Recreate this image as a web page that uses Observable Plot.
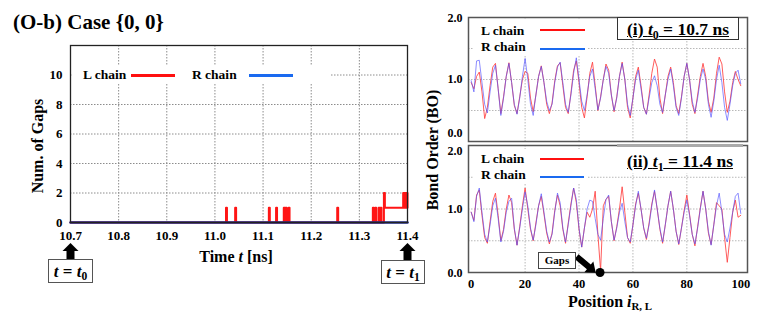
<!DOCTYPE html>
<html><head><meta charset="utf-8">
<script src="https://cdn.jsdelivr.net/npm/d3@7"></script>
<script src="https://cdn.jsdelivr.net/npm/@observablehq/plot@0.6"></script>
<style>
body{margin:0;background:#fff;}
#root{position:relative;width:763px;height:321px;overflow:hidden;background:#fff;font-family:"Liberation Serif","Times New Roman",serif;font-weight:bold;color:#000;}
#root svg{position:absolute;left:0;top:0;}
#root svg, #root svg text{font-family:"Liberation Serif","Times New Roman",serif !important;font-weight:bold;}
.ov{position:absolute;white-space:nowrap;line-height:1;}
.sub{font-size:0.68em;position:relative;top:0.3em;}
</style></head><body><div id="root"></div>
<script>
// ---------- DATA ----------
// Left panel: number of gaps vs time (step series)
const gapTime = [10.700, 11.023, 11.025, 11.042, 11.044, 11.112, 11.114, 11.127, 11.129, 11.143, 11.145, 11.147, 11.149, 11.153, 11.155, 11.254, 11.256, 11.328, 11.330, 11.333, 11.335, 11.340, 11.342, 11.344, 11.346, 11.351, 11.353, 11.391, 11.3925, 11.394, 11.3955, 11.397, 11.3985, 11.400];
const gapCountL = [0, 1, 0, 1, 0, 1, 0, 1, 0, 1, 0, 1, 0, 1, 0, 1, 0, 1, 0, 1, 0, 1, 0, 1, 0, 2, 1, 2, 1, 2, 1, 2, 1, 2];
const rTime = [10.7, 11.4];
const gapCountR = [0, 0];
const timeTicks = [10.7, 10.8, 10.9, 11.0, 11.1, 11.2, 11.3, 11.4];
const timeGrid = [10.8, 10.9, 11.0, 11.1, 11.2, 11.3];
const gapTicks = [0, 2, 4, 6, 8, 10];
const gapGrid = [2, 4, 6, 8, 10];
const markTimes = [10.7, 11.4];

// Right panels: bond order vs position
const position = Array.from({length: 101}, (_, i) => i);
const boL_t0 = [0.95,0.85,1.05,1.12,0.80,0.37,0.55,0.90,1.20,1.26,
  0.85,0.45,0.72,1.05,1.27,0.95,0.58,0.45,0.72,1.00,
  1.13,1.10,0.70,0.48,0.75,1.05,1.22,0.95,0.60,0.45,
  0.62,0.98,1.22,1.27,0.90,0.55,0.45,0.78,1.15,1.30,
  0.95,0.55,0.38,0.72,1.10,1.28,0.90,0.50,0.72,1.00,
  1.25,1.15,0.75,0.48,0.72,1.05,1.28,1.00,0.55,0.38,
  0.70,1.05,1.20,0.90,0.55,0.44,0.75,1.10,1.33,1.20,
  0.70,0.45,0.75,1.05,1.20,0.95,0.58,0.45,0.72,1.05,
  1.26,1.00,0.60,0.45,0.75,1.05,1.26,1.05,0.65,0.47,
  0.70,1.10,1.36,1.25,0.80,0.47,0.65,0.95,1.13,1.00,
  0.90];
const boR_t0 = [0.98,0.80,1.30,1.31,0.95,0.60,0.46,0.80,1.10,1.23,
  0.85,0.42,0.70,1.05,1.26,0.95,0.60,0.44,0.70,1.05,
  1.34,1.00,0.60,0.42,0.75,1.05,1.21,0.95,0.65,0.50,
  0.60,0.95,1.20,1.28,0.95,0.60,0.47,0.75,1.10,1.35,
  1.00,0.65,0.50,0.75,1.05,1.17,0.85,0.51,0.70,1.00,
  1.21,1.10,0.75,0.50,0.70,1.05,1.26,1.00,0.60,0.42,
  0.70,1.00,1.15,0.85,0.55,0.44,0.70,0.95,1.06,0.90,
  0.60,0.47,0.75,1.00,1.17,0.90,0.55,0.42,0.70,1.05,
  1.26,1.00,0.65,0.47,0.70,1.00,1.17,1.00,0.60,0.39,
  0.65,1.00,1.23,0.95,0.55,0.34,0.60,0.90,1.10,1.15,
  0.93];
const boL_t1 = [0.95,0.82,1.22,1.30,0.90,0.55,0.46,0.80,1.12,1.25,
  0.90,0.50,0.68,1.00,1.22,1.10,0.68,0.43,0.72,1.05,
  1.33,1.00,0.68,0.50,0.78,1.05,1.20,0.92,0.62,0.45,
  0.62,0.98,1.22,1.05,0.68,0.46,0.78,1.08,1.33,1.10,
  0.68,0.40,0.70,0.95,0.87,1.00,1.28,0.60,0.03,1.05,
  1.15,1.20,0.80,0.50,0.72,1.00,1.35,0.95,0.55,0.46,
  0.75,1.08,1.25,1.00,0.70,0.52,0.78,1.08,1.28,1.00,
  0.68,0.46,0.75,1.05,1.28,1.00,0.65,0.44,0.70,0.98,
  1.22,0.92,0.60,0.42,0.72,1.02,1.28,1.00,0.62,0.44,
  0.75,1.10,1.05,1.00,0.55,0.16,0.55,0.95,1.14,0.87,
  0.90];
const boR_t1 = [0.95,0.80,1.20,1.33,0.95,0.60,0.48,0.75,1.05,1.17,
  0.85,0.48,0.65,0.95,1.12,1.17,0.70,0.43,0.70,1.00,
  1.27,1.05,0.70,0.51,0.75,1.05,1.24,0.95,0.65,0.48,
  0.60,0.95,1.25,1.10,0.70,0.48,0.75,1.05,1.33,1.15,
  0.70,0.40,0.70,1.00,1.14,1.12,0.85,0.60,0.51,0.85,
  1.15,1.22,0.80,0.51,0.70,0.95,1.09,0.80,0.55,0.48,
  0.75,1.05,1.28,1.00,0.70,0.54,0.75,1.05,1.30,1.00,
  0.70,0.48,0.75,1.05,1.28,1.00,0.65,0.45,0.70,0.95,
  1.14,0.90,0.60,0.45,0.70,1.00,1.28,1.00,0.65,0.43,
  0.75,1.05,1.25,0.95,0.60,0.48,0.70,0.95,1.20,1.25,
  0.93];
const posTicks = [0, 20, 40, 60, 80, 100];
const posGrid = [20, 40, 60, 80];
const boGrid = [0.5, 1.0, 1.5];
const gapPoint = [{p: 47.8, bo: 0}];
const gapArrow = [{p: 39.1, bo: 0.25}];

// ---------- RENDER ----------
const serif = "Liberation Serif, Times New Roman, serif";
const root = document.getElementById("root");
const baseStyle = {background: "transparent", fontFamily: serif, fontSize: "13px", fontWeight: "bold", color: "#000", overflow: "visible"};
const f1 = d3.format(".1f");
const axisFont = {fontFamily: serif, fontWeight: "bold"};

function blockArrowShape(s, w, h) {
  return {draw(ctx, l) {
    ctx.moveTo(-s, 0); ctx.lineTo(-s, -l + h); ctx.lineTo(-w, -l + h);
    ctx.lineTo(0, -l); ctx.lineTo(w, -l + h); ctx.lineTo(s, -l + h);
    ctx.lineTo(s, 0); ctx.closePath();
  }};
}

const stepRows = gapTime.map((t, k) => ({t, n: gapCountL[k]}));
const rRows = rTime.map((t, k) => ({t, n: gapCountR[k]}));
const dotted = {stroke: "#8c8c8c", strokeOpacity: 1, strokeDasharray: "1.5,1.5", strokeWidth: 1};

const left = Plot.plot({
  width: 763, height: 321,
  marginLeft: 70, marginRight: 356, marginTop: 45, marginBottom: 99,
  style: baseStyle,
  x: {domain: [10.7, 11.4]},
  y: {domain: [0, 12]},
  marks: [
    Plot.gridX(timeGrid, dotted),
    Plot.gridY(gapGrid, dotted),
    Plot.line(stepRows, {x: "t", y: "n", curve: "step-after", stroke: "#ff1515", strokeWidth: 2}),
    Plot.line(rRows, {x: "t", y: "n", stroke: "#1f2b8c", strokeWidth: 2.5}),
    Plot.frame({stroke: "#222", strokeWidth: 1.3}),
    Plot.axisX(timeTicks, {tickSize: 0, tickPadding: 8, tickFormat: f1, label: null, fontSize: 13, ...axisFont}),
    Plot.axisY(gapTicks, {tickSize: 0, tickPadding: 8, label: null, fontSize: 13, ...axisFont}),
    Plot.vector(markTimes, {x: d => d, y: -2.75, length: 20, anchor: "start", shape: blockArrowShape(4, 8, 8), fill: "#000", stroke: "none"})
  ]
});
root.appendChild(left);

function bondPanel(Ls, Rs, top, bottom, showX, yTickDy) {
  const rows = position.map((p, k) => ({p, L: Ls[k], R: Rs[k]}));
  const marks = [
    Plot.gridX(posGrid, {stroke: "#b8b8b8", strokeOpacity: 1, strokeDasharray: "1.5,1.5"}),
    Plot.gridY(boGrid, {stroke: "#b8b8b8", strokeOpacity: 1, strokeDasharray: "1.5,1.5"}),
    Plot.line(rows, {x: "p", y: "L", stroke: "#ff4040", strokeWidth: 1, strokeOpacity: 0.85}),
    Plot.line(rows, {x: "p", y: "R", stroke: "#5050ff", strokeWidth: 1, strokeOpacity: 0.65}),
    Plot.frame({stroke: "#555", strokeWidth: 1.5}),
    ...[2, 1, 0].map((v, k) => Plot.axisY([v], {tickSize: 0, tickPadding: 6, tickFormat: f1, label: null, fontSize: 12, dy: yTickDy[k], ...axisFont}))
  ];
  if (showX) marks.push(Plot.axisX(posTicks, {tickSize: 0, tickPadding: 7, label: null, fontSize: 12.5, ...axisFont}));
  return {marks, plot: (extra) => Plot.plot({
    width: 763, height: 321,
    marginLeft: 468, marginRight: 16, marginTop: top, marginBottom: bottom,
    style: baseStyle,
    x: {domain: [-1, 102.5], axis: null},
    y: {domain: [0, 2], axis: null},
    marks: marks.concat(extra)
  })};
}

const topPanel = bondPanel(boL_t0, boR_t0, 17, 180, false, [1, 0, -8]);
root.appendChild(topPanel.plot([]));
const botPanel = bondPanel(boL_t1, boR_t1, 145, 49, true, [6, 0, 1]);
root.appendChild(botPanel.plot([
  Plot.dot(gapPoint, {x: "p", y: "bo", r: 4.5, fill: "#000"}),
  Plot.vector(gapArrow, {x: "p", y: "bo", length: 25, rotate: 130, anchor: "start", shape: blockArrowShape(3, 7, 9), fill: "#000", stroke: "none"})
]));

// force serif bold on every svg text (tick labels)
d3.selectAll("#root svg text")
  .attr("font-family", serif)
  .style("font-family", "'Liberation Serif','Times New Roman',serif")
  .style("font-weight", "bold");

// ---------- TEXT / LEGENDS / ANNOTATIONS ----------
function add(html, css) {
  const d = document.createElement("div");
  d.className = "ov"; d.innerHTML = html;
  Object.assign(d.style, css);
  root.appendChild(d);
  return d;
}
function swatch(x, y, w, color, h) {
  add("", {left: x + "px", top: (y - h / 2) + "px", width: w + "px", height: h + "px", background: color});
}

add("(O-b) Case {0, 0}", {left: "13px", top: "12px", fontSize: "21px"});

// left legend (white background covers grid)
add("", {left: "72px", top: "66px", width: "258px", height: "18px", background: "#fff"});
add("L chain", {left: "83px", top: "68px", fontSize: "13.5px"});
swatch(131, 75, 44, "#ff1010", 3);
add("R chain", {left: "192px", top: "68px", fontSize: "13.5px"});
swatch(249, 75, 44, "#1a6af0", 3);

add("Num. of Gaps", {left: "37.5px", top: "146px", fontSize: "16px", transform: "translate(-50%,-50%) rotate(-90deg)"});
add("Time <i>t</i> [ns]", {left: "236px", top: "249px", fontSize: "16px", transform: "translateX(-50%)"});

const boxCss = {border: "1px solid #555", background: "#fff", fontSize: "17px", height: "24px", lineHeight: "24px", textAlign: "center", boxSizing: "border-box"};
add("<i>t</i> = <i>t</i><span class='sub'>0</span>", Object.assign({left: "48px", top: "259px", width: "45px"}, boxCss));
add("<i>t</i> = <i>t</i><span class='sub'>1</span>", Object.assign({left: "381px", top: "260px", width: "44px"}, boxCss));

// right legends
add("", {left: "474px", top: "20px", width: "114px", height: "36px", background: "#fff"});
add("L chain", {left: "481px", top: "23.5px", fontSize: "13.5px"});
swatch(540, 30, 45, "#ff1010", 2.5);
add("R chain", {left: "481px", top: "40px", fontSize: "13.5px"});
swatch(540, 49, 45, "#1a6af0", 2.5);

add("", {left: "474px", top: "149px", width: "114px", height: "34px", background: "#fff"});
add("L chain", {left: "481px", top: "151.5px", fontSize: "13.5px"});
swatch(540, 159, 44, "#ff1010", 2.5);
add("R chain", {left: "481px", top: "167.5px", fontSize: "13.5px"});
swatch(540, 177, 44, "#1a6af0", 2.5);

add("<u>(i) <i>t</i><span class='sub'>0</span> = 10.7 ns</u>", {left: "617px", top: "17px", width: "122px", height: "23px", border: "1.5px solid #333", background: "#fff", fontSize: "17.5px", lineHeight: "22px", textAlign: "center", boxSizing: "border-box"});
add("<u>(ii) <i>t</i><span class='sub'>1</span> = 11.4 ns</u>", {left: "617px", top: "144px", width: "126px", height: "29px", borderTop: "3px solid #aaa", background: "#fff", fontSize: "17.5px", lineHeight: "28px", textAlign: "center", boxSizing: "border-box"});

add("Gaps", {left: "538px", top: "252px", width: "38px", height: "17px", border: "1px solid #444", background: "#fff", fontSize: "11px", lineHeight: "15px", textAlign: "center", boxSizing: "border-box"});

add("Bond Order (BO)", {left: "433px", top: "150px", fontSize: "16px", transform: "translate(-50%,-50%) rotate(-90deg)"});
add("Position <i>i</i><span class='sub'>R, L</span>", {left: "610px", top: "294px", fontSize: "16px", transform: "translateX(-50%)"});
</script></body></html>
